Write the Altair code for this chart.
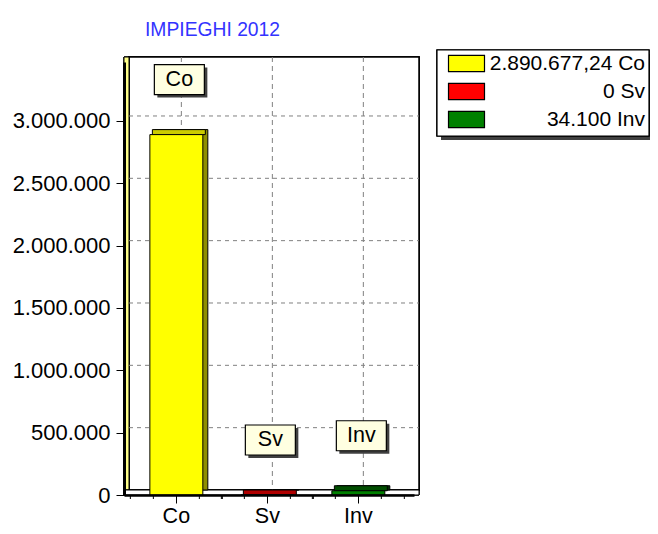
import altair as alt
import pandas as pd

# ---- data ----
categories = ["Co", "Sv", "Inv"]
values = [2890677.24, 0, 34100]
front_colors = ["#FFFF00", "#FF0000", "#008000"]
top_colors = ["#CCCC00", "#B00000", "#004D00"]
side_colors = ["#8F8F00", "#800000", "#003300"]
y_minor = [i * 125000 for i in range(0, 28)]
grid_lines = [500000, 1000000, 1500000, 2000000, 2500000, 3000000]
title_text = "IMPIEGHI 2012"


def it_fmt(v):
    if float(v).is_integer():
        return f"{int(v):,}".replace(",", ".")
    s = f"{v:,.2f}"
    return s.replace(",", "X").replace(".", ",").replace("X", ".")


legend_labels = [f"{it_fmt(v)} {c}" for v, c in zip(values, categories)]

df = pd.DataFrame({
    "cat": categories,
    "value": values,
    "label": legend_labels,
    "top": top_colors,
    "side": side_colors,
})
grid_df = pd.DataFrame({"v": grid_lines})

FONT = "Liberation Sans"
FS = 21.5
W, H = 290, 433
D = 5  # 3D depth
LX, LY = 311, -12  # legend position (plot coords)
BX0, BX1, BY0, BY1 = 313, 525, -12, 74  # legend frame (plot coords)

xscale = alt.Scale(domain=categories, paddingInner=0.418, paddingOuter=0.3025, align=0.47)
yscale = alt.Scale(domain=[0, 3473000], nice=False, zero=True)

X = alt.X("cat:N", scale=xscale, sort=categories,
          axis=alt.Axis(title=None, labelFont=FONT, labelFontSize=FS, labelColor="black",
                        labelAngle=0, tickSize=8, tickColor="black", labelPadding=2,
                        domainColor="black", domainWidth=2.5, zindex=1))
Y = alt.Y("value:Q", scale=yscale,
          axis=alt.Axis(title=None, values=y_minor, labelFont=FONT, labelFontSize=22,
                        labelColor="black", labelOverlap=False, labelFlush=False,
                        labelExpr="datum.value % 500000 === 0 ? replace(replace(format(datum.value, ',d'), ',', '.'), ',', '.') : ''",
                        tickSize={"condition": {"test": "datum.value % 500000 === 0", "value": 8}, "value": 4},
                        tickColor="black", labelPadding=6, grid=False,
                        domainColor="black", domainWidth=3, zindex=1))

base = alt.Chart(df)

back_wall = base.mark_rect(fill="white", stroke="black", strokeWidth=1.5).encode(
    x=alt.value(D), x2=alt.value(W + D), y=alt.value(-D), y2=alt.value(H - D))
left_wall = base.mark_rect(fill="#FFFF88", stroke="black", strokeWidth=1).encode(
    x=alt.value(0), x2=alt.value(D), y=alt.value(-D), y2=alt.value(H))
floor = base.mark_rect(fill="white", stroke="black", strokeWidth=1).encode(
    x=alt.value(0), x2=alt.value(W + D), y=alt.value(H - D), y2=alt.value(H))

hgrid = alt.Chart(grid_df).mark_rule(color="#808080", strokeDash=[4, 4], yOffset=-D).encode(
    y=alt.Y("v:Q", scale=yscale), x=alt.value(D), x2=alt.value(W + D))
vgrid = base.mark_rule(color="#808080", strokeDash=[5, 4], xOffset=D).encode(
    x=X, y=alt.value(-D), y2=alt.value(H - D))

side = base.mark_bar(stroke="black", strokeWidth=1, xOffset=D, yOffset=-D, y2Offset=-D).encode(
    x=X, y=Y, y2=alt.datum(0), fill=alt.Fill("side:N", scale=None))
top = base.mark_bar(stroke="black", strokeWidth=1, xOffset=D / 2, yOffset=-D).encode(
    x=X, y=Y, y2=alt.Y2("value:Q"), fill=alt.Fill("top:N", scale=None))
front = base.mark_bar(stroke="black", strokeWidth=1).encode(
    x=X, y=Y,
    color=alt.Color("label:N", scale=alt.Scale(domain=legend_labels, range=front_colors),
                    legend=alt.Legend(title=None, orient="none", legendX=LX, legendY=LY,
                                      labelFont=FONT, labelFontSize=21, labelColor="black",
                                      labelAlign="right", labelOffset=186, labelLimit=400,
                                      symbolType="M0,-0.9L4,-0.9L4,0.9L0,0.9Z",
                                      symbolSize=324, symbolStrokeColor="black",
                                      symbolStrokeWidth=1.2, symbolOpacity=1,
                                      padding=3, rowPadding=6)))

box_path = "M-1,-0.6L1,-0.6L1,0.6L-1,0.6Z"
box_shadow = base.mark_point(shape=box_path, size=2500, filled=True, color="#404040",
                             opacity=1, xOffset=3 + 3, yOffset=-55 + 3).encode(x=X, y=Y)
box = base.mark_point(shape=box_path, size=2500, filled=True, fill="#FFFFE1", stroke="black",
                      strokeWidth=1.2, opacity=1, xOffset=3, yOffset=-55).encode(x=X, y=Y)
box_text = base.mark_text(font=FONT, fontSize=FS, color="black", xOffset=3, yOffset=-55,
                          baseline="middle").encode(x=X, y=Y, text="cat:N")

minor_x = [base.mark_rule(color="black", xOffset=o).encode(x=X, y=alt.value(H), y2=alt.value(H + 4))
           for o in (-46, -23, 23, 46)]

legend_shadow = base.mark_rect(fill="#404040").encode(
    x=alt.value(BX0 + 4), x2=alt.value(BX1 + 4), y=alt.value(BY0 + 4), y2=alt.value(BY1 + 4))
legend_frame = base.mark_rect(fill="white", stroke="black", strokeWidth=1.2).encode(
    x=alt.value(BX0), x2=alt.value(BX1), y=alt.value(BY0), y2=alt.value(BY1))

chart = alt.layer(
    back_wall, left_wall, floor, hgrid, vgrid, side, top, front,
    box_shadow, box, box_text, *minor_x, legend_shadow, legend_frame
).properties(
    width=W, height=H,
    autosize=alt.AutoSizeParams(type="none"),
    padding={"left": 116, "top": 54, "right": 236, "bottom": 31},
    title=alt.TitleParams(title_text, anchor="start", frame="group", dx=21, offset=9,
                          font=FONT, fontSize=19.3, fontWeight="normal", color="#3333FF"),
).configure_view(stroke=None).configure(background="white")

chart.save("out.html", embed_options={"renderer": "svg", "actions": False})
